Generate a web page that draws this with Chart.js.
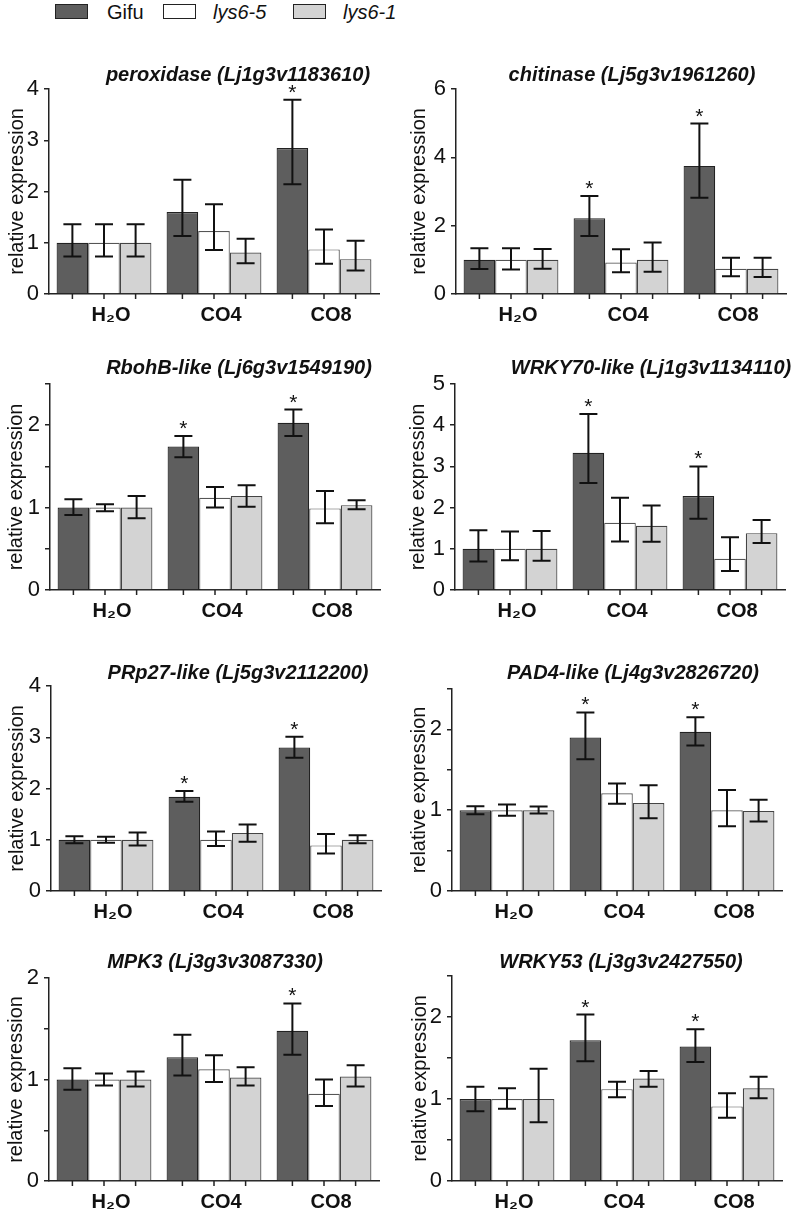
<!DOCTYPE html>
<html>
<head>
<meta charset="utf-8">
<script src="https://cdn.jsdelivr.net/npm/chart.js@4.4.0/dist/chart.umd.min.js"></script>
<style>
  html, body { margin: 0; padding: 0; background: #fff; overflow: hidden; }
  body { width: 793px; height: 1222px; position: relative; font-family: "Liberation Sans", Arial, sans-serif; color: #111; }
  .panel { position: absolute; }
  .sw { position: absolute; top: 4px; width: 33px; height: 15px; box-sizing: border-box; border: 1.5px solid #222; }
  .lt { position: absolute; top: 0; font-size: 20px; line-height: 24px; }
</style>
</head>
<body>
<div class="sw" style="left:55px;background:#5e5e5e"></div><span class="lt" style="left:107px">Gifu</span>
<div class="sw" style="left:163px;background:#fff"></div><span class="lt" style="left:213px;font-style:italic">lys6-5</span>
<div class="sw" style="left:293px;background:#d3d3d3"></div><span class="lt" style="left:343px;font-style:italic">lys6-1</span>

<script>
// categories and series
const treatments = ["H₂O", "CO4", "CO8"];
const lines = ["Gifu", "lys6-5", "lys6-1"];

// titles and y axis range for each gene
const genes = [
  "peroxidase (Lj1g3v1183610)", "chitinase (Lj5g3v1961260)",
  "RbohB-like (Lj6g3v1549190)", "WRKY70-like (Lj1g3v1134110)",
  "PRp27-like (Lj5g3v2112200)", "PAD4-like (Lj4g3v2826720)",
  "MPK3 (Lj3g3v3087330)", "WRKY53 (Lj3g3v2427550)"
];
const yMax = [4, 6, 2.5, 5, 4, 2.5, 2, 2.5];
const yStep = [1, 2, 0.5, 1, 1, 0.5, 0.5, 0.5];

// rows: Gifu, lys6-5, lys6-1 ; columns: H2O, CO4, CO8
const peroxidaseMean = [[1.00, 1.60, 2.85], [1.00, 1.23, 0.87], [1.00, 0.81, 0.68]];
const peroxidaseLow  = [[0.73, 1.13, 2.14], [0.73, 0.86, 0.59], [0.73, 0.60, 0.46]];
const peroxidaseHigh = [[1.36, 2.23, 3.79], [1.36, 1.75, 1.26], [1.36, 1.08, 1.04]];
const peroxidaseStars = ["CO8"];

const chitinaseMean = [[1.00, 2.22, 3.75], [1.00, 0.92, 0.74], [1.00, 1.00, 0.74]];
const chitinaseLow  = [[0.73, 1.70, 2.82], [0.72, 0.64, 0.52], [0.74, 0.65, 0.50]];
const chitinaseHigh = [[1.34, 2.87, 4.99], [1.34, 1.31, 1.06], [1.32, 1.51, 1.06]];
const chitinaseStars = ["CO4", "CO8"];

const rbohbMean = [[1.00, 1.74, 2.03], [1.00, 1.12, 0.99], [1.00, 1.14, 1.03]];
const rbohbLow  = [[0.91, 1.61, 1.87], [0.955, 1.00, 0.81], [0.87, 1.01, 0.98]];
const rbohbHigh = [[1.10, 1.87, 2.19], [1.04, 1.25, 1.20], [1.14, 1.27, 1.09]];
const rbohbStars = ["CO4", "CO8"];

const wrky70Mean = [[1.00, 3.33, 2.28], [1.00, 1.63, 0.76], [1.00, 1.56, 1.38]];
const wrky70Low  = [[0.69, 2.60, 1.73], [0.72, 1.18, 0.46], [0.71, 1.17, 1.14]];
const wrky70High = [[1.45, 4.27, 3.00], [1.42, 2.24, 1.28], [1.43, 2.05, 1.70]];
const wrky70Stars = ["CO4", "CO8"];

const prp27Mean = [[1.00, 1.84, 2.80], [1.00, 1.00, 0.89], [1.00, 1.13, 1.00]];
const prp27Low  = [[0.93, 1.74, 2.60], [0.94, 0.88, 0.73], [0.89, 0.96, 0.93]];
const prp27High = [[1.07, 1.95, 3.01], [1.06, 1.16, 1.11], [1.14, 1.30, 1.09]];
const prp27Stars = ["CO4", "CO8"];

const pad4Mean = [[1.00, 1.90, 1.97], [1.00, 1.21, 1.00], [1.00, 1.09, 0.99]];
const pad4Low  = [[0.95, 1.63, 1.80], [0.93, 1.08, 0.80], [0.96, 0.90, 0.86]];
const pad4High = [[1.05, 2.21, 2.15], [1.07, 1.33, 1.25], [1.045, 1.31, 1.13]];
const pad4Stars = ["CO4", "CO8"];

const mpk3Mean = [[1.00, 1.22, 1.48], [1.00, 1.10, 0.86], [1.00, 1.02, 1.03]];
const mpk3Low  = [[0.90, 1.04, 1.245], [0.94, 0.975, 0.74], [0.93, 0.94, 0.93]];
const mpk3High = [[1.11, 1.44, 1.75], [1.06, 1.24, 1.00], [1.08, 1.12, 1.14]];
const mpk3Stars = ["CO8"];

const wrky53Mean = [[1.00, 1.715, 1.64], [1.00, 1.12, 0.91], [1.00, 1.25, 1.13]];
const wrky53Low  = [[0.85, 1.46, 1.45], [0.88, 1.02, 0.77], [0.715, 1.15, 1.01]];
const wrky53High = [[1.15, 2.03, 1.85], [1.13, 1.21, 1.07], [1.37, 1.34, 1.27]];
const wrky53Stars = ["CO4", "CO8"];

const means = [peroxidaseMean, chitinaseMean, rbohbMean, wrky70Mean, prp27Mean, pad4Mean, mpk3Mean, wrky53Mean];
const lows = [peroxidaseLow, chitinaseLow, rbohbLow, wrky70Low, prp27Low, pad4Low, mpk3Low, wrky53Low];
const highs = [peroxidaseHigh, chitinaseHigh, rbohbHigh, wrky70High, prp27High, pad4High, mpk3High, wrky53High];
const stars = [peroxidaseStars, chitinaseStars, rbohbStars, wrky70Stars, prp27Stars, pad4Stars, mpk3Stars, wrky53Stars];

// page layout of each panel (y axis x, pixel of max, pixel of zero, title centre, y title offset)
const layout = [
  { ax: 49,  top: 89,  zero: 294,  tx: 238, ty: 75,  yt: 31.5 },
  { ax: 456, top: 89,  zero: 294,  tx: 632, ty: 75,  yt: 37 },
  { ax: 50,  top: 384, zero: 590,  tx: 239, ty: 368, yt: 34 },
  { ax: 455, top: 384, zero: 590,  tx: 651, ty: 368, yt: 36.5 },
  { ax: 51,  top: 686, zero: 891,  tx: 238, ty: 673, yt: 33.5 },
  { ax: 452, top: 689, zero: 891,  tx: 633, ty: 673, yt: 33 },
  { ax: 49,  top: 978, zero: 1181, tx: 215, ty: 962, yt: 32.5 },
  { ax: 452, top: 976, zero: 1181, tx: 621, ty: 962, yt: 32 }
];

const fills = ["#5e5e5e", "#ffffff", "#d3d3d3"];
const edges = ["#222222", "#555555", "#444444"];
const FONT = '"Liberation Sans", Arial, sans-serif';
const YW = 48, XH = 40, PADTOP = 30, PADRIGHT = 10, PLOTW = 330;

// error bars, star marks, tick marks under each bar and the italic gene title
const extras = {
  id: "extras",
  afterDatasetsDraw(chart, args, opts) {
    const ctx = chart.ctx, y = chart.scales.y, area = chart.chartArea;
    ctx.save();
    chart.data.datasets.forEach((ds, i) => {
      chart.getDatasetMeta(i).data.forEach((bar, j) => {
        ctx.strokeStyle = "#222";
        ctx.lineWidth = 1.5;
        ctx.beginPath();
        ctx.moveTo(bar.x, area.bottom);
        ctx.lineTo(bar.x, area.bottom + 5);
        ctx.stroke();

        const lo = y.getPixelForValue(ds.low[j]);
        const hi = y.getPixelForValue(ds.high[j]);
        ctx.strokeStyle = "#111";
        ctx.lineWidth = 2;
        ctx.beginPath();
        ctx.moveTo(bar.x, lo); ctx.lineTo(bar.x, hi);
        ctx.moveTo(bar.x - 9, lo); ctx.lineTo(bar.x + 9, lo);
        ctx.moveTo(bar.x - 9, hi); ctx.lineTo(bar.x + 9, hi);
        ctx.stroke();

        if (ds.stars.includes(treatments[j])) {
          ctx.fillStyle = "#111";
          ctx.font = "21px " + FONT;
          ctx.textAlign = "center";
          ctx.textBaseline = "alphabetic";
          ctx.fillText("*", bar.x, hi - 1);
        }
      });
    });
    ctx.fillStyle = "#111";
    ctx.font = "italic bold 20px " + FONT;
    ctx.textAlign = "center";
    ctx.textBaseline = "middle";
    ctx.fillText(opts.title, opts.x, opts.y);
    ctx.restore();
  }
};

genes.forEach((gene, p) => {
  const L = layout[p];
  const left = L.ax - YW, topPx = L.top - PADTOP;
  const w = YW + PLOTW + PADRIGHT, h = (L.zero - L.top) + PADTOP + XH;

  const box = document.createElement("div");
  box.className = "panel";
  box.style.left = left + "px";
  box.style.top = topPx + "px";
  const canvas = document.createElement("canvas");
  canvas.width = w; canvas.height = h;
  canvas.style.width = w + "px"; canvas.style.height = h + "px";
  box.appendChild(canvas);
  document.body.appendChild(box);

  const datasets = lines.map((name, s) => ({
    label: name,
    data: means[p][s],
    low: lows[p][s],
    high: highs[p][s],
    stars: s === 0 ? stars[p] : [],
    backgroundColor: fills[s],
    borderColor: edges[s],
    borderWidth: 1.2,
    categoryPercentage: 0.862,
    barPercentage: 1.0
  }));

  new Chart(canvas.getContext("2d"), {
    type: "bar",
    data: { labels: treatments, datasets: datasets },
    plugins: [extras],
    options: {
      responsive: false,
      animation: false,
      events: [],
      layout: { padding: { top: PADTOP, right: PADRIGHT, left: 0, bottom: 0 } },
      plugins: {
        legend: { display: false },
        tooltip: { enabled: false },
        extras: { title: gene, x: L.tx - left, y: L.ty - topPx }
      },
      scales: {
        x: {
          grid: { display: false, drawTicks: false, tickLength: 0 },
          border: { display: true, color: "#222", width: 1.5 },
          ticks: { color: "#111", font: { family: FONT, size: 20, weight: "bold" }, padding: 9, labelOffset: 7, maxRotation: 0 },
          afterFit: s => { s.height = XH; }
        },
        y: {
          min: 0,
          max: yMax[p],
          grid: { drawOnChartArea: false, drawTicks: true, tickLength: 5, color: "#222", lineWidth: 1.5 },
          border: { display: true, color: "#222", width: 1.5 },
          ticks: {
            stepSize: yStep[p],
            color: "#111",
            padding: 5,
            font: { family: FONT, size: 22 },
            callback: v => (Math.abs(v - Math.round(v)) < 1e-6 ? String(Math.round(v)) : "")
          },
          title: {
            display: true,
            text: "relative expression",
            color: "#111",
            font: { family: FONT, size: 20, lineHeight: 1 },
            padding: { top: YW - L.yt - 10, bottom: 0 }
          },
          afterFit: s => { s.width = YW; }
        }
      }
    }
  });
});
</script>
</body>
</html>
